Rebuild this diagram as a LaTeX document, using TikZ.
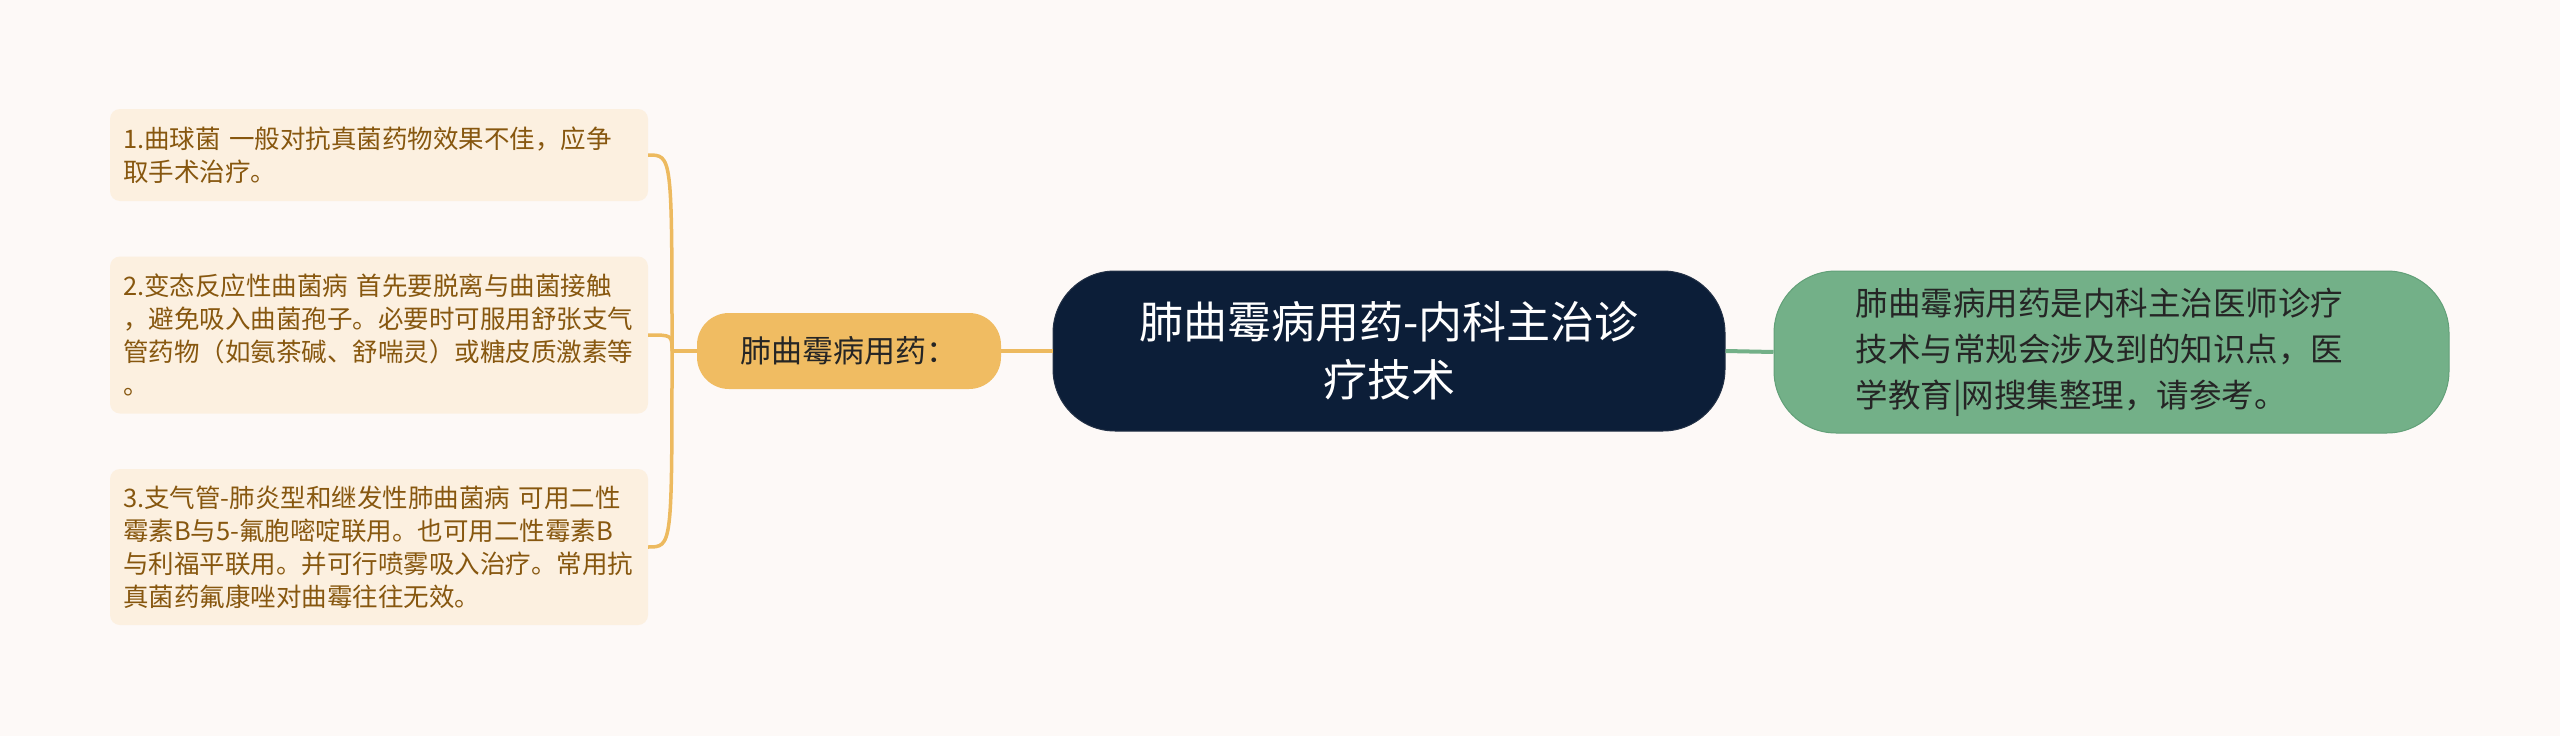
\documentclass[tikz,border=0pt]{standalone}
\usepackage{fontspec}
\setmainfont{Noto Sans CJK SC}
\definecolor{bgc}{HTML}{FDF9F7}
\definecolor{boxfill}{HTML}{FCF0E0}
\definecolor{boxtext}{HTML}{87570F}
\definecolor{orangec}{HTML}{F0BC62}
\definecolor{linec}{HTML}{EDBA5F}
\definecolor{navy}{HTML}{0C1E38}
\definecolor{greenc}{HTML}{73B088}
\definecolor{greenb}{HTML}{62A078}
\definecolor{darktext}{HTML}{252525}
\tikzset{
  leafbox/.style={fill=boxfill, draw=none, rounded corners=10pt, minimum width=538pt,
    text width=512pt, align=left, inner sep=0pt, text=boxtext,
    font=\fontsize{25.5}{33}\selectfont},
  subbox/.style={fill=orangec, draw=none, rounded corners=32pt, minimum width=304pt,
    minimum height=76pt, inner sep=0pt, text=darktext, font=\fontsize{31}{36}\selectfont},
  rootbox/.style={fill=navy, draw=navy!80!gray, line width=1pt, rounded corners=62pt, minimum width=672pt,
    minimum height=160pt, inner sep=0pt, text=white, align=center,
    font=\fontsize{44}{58}\selectfont},
  notebox/.style={fill=greenc, draw=greenb, line width=1pt, rounded corners=62pt, minimum width=675pt,
    minimum height=162pt, inner sep=0pt, text=darktext, align=left, text width=512pt,
    font=\fontsize{32.5}{46}\selectfont},
  bline/.style={draw=linec, line width=3.5pt},
  gline/.style={draw=greenc, line width=4pt},
}
\begin{document}
\begin{tikzpicture}[x=1pt, y=-1pt]
\useasboundingbox (0,0) rectangle (2560,736);
\fill[bgc] (0,0) rectangle (2560,736);

\node[leafbox, minimum height=92pt] (b1) at (379,155)
  {1.曲球菌 一般对抗真菌药物效果不佳，应争\\取手术治疗。};
\node[leafbox, minimum height=157pt] (b2) at (379,335)
  {2.变态反应性曲菌病 首先要脱离与曲菌接触\\，避免吸入曲菌孢子。必要时可服用舒张支气\\管药物（如氨茶碱、舒喘灵）或糖皮质激素等\\。};
\node[leafbox, minimum height=156pt] (b3) at (379,547)
  {3.支气管-肺炎型和继发性肺曲菌病 可用二性\\霉素B与5-氟胞嘧啶联用。也可用二性霉素B\\与利福平联用。并可行喷雾吸入治疗。常用抗\\真菌药氟康唑对曲霉往往无效。};

\node[subbox] (o) at (849,351) {肺曲霉病用药：};
\node[rootbox] (c) at (1389,351) {肺曲霉病用药-内科主治诊\\疗技术};
\node[notebox] (g) at (2111.5,352)
  {肺曲霉病用药是内科主治医师诊疗\\技术与常规会涉及到的知识点，医\\学教育|网搜集整理，请参考。};

\coordinate (j) at (672,351);

\draw[bline] (b1.east) .. controls (b1.east -| j) .. (j);
\draw[bline] (b2.east) .. controls (b2.east -| j) .. (j);
\draw[bline] (b3.east) .. controls (b3.east -| j) .. (j);
\draw[bline] (j) -- (o.west);
\draw[bline] (o.east) -- (c.west);
\draw[gline] (c.east) -- (g.west);
\end{tikzpicture}
\end{document}
